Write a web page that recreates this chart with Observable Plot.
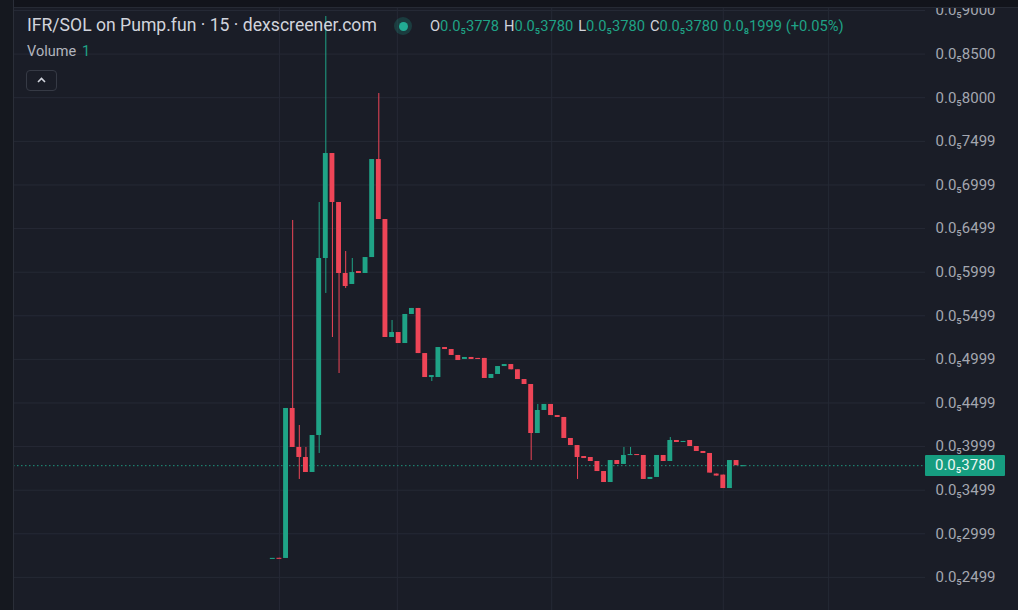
<!DOCTYPE html>
<html>
<head>
<meta charset="utf-8">
<script src="https://cdn.jsdelivr.net/npm/d3@7"></script>
<script src="https://cdn.jsdelivr.net/npm/@observablehq/plot@0.6"></script>
<style>
  html, body { margin: 0; padding: 0; background: #1a1d27; }
  #wrap { position: relative; width: 1018px; height: 610px; overflow: hidden; background: #1a1d27; font-family: Roboto, "Noto Sans", sans-serif; }
  #chart { position: absolute; left: 0; top: 0; }
  .ov { position: absolute; white-space: nowrap; }
  #topband { left: 0; top: 0; width: 1018px; height: 7px; background: #12141b; border-bottom: 1px solid #262a34; }
  #leftband { left: 0; top: 0; width: 13px; height: 610px; background: #15181f; border-right: 1px solid #2a2e38; }
  #title { left: 27px; top: 15px; font-size: 17.6px; color: #d1d4dc; }
  #dot { left: 394px; top: 17px; width: 18px; height: 18px; border-radius: 50%; background: rgba(34,171,148,0.22); }
  #dot::after { content: ""; position: absolute; left: 4.5px; top: 4.5px; width: 9px; height: 9px; border-radius: 50%; background: #22ab94; }
  #ohlc { left: 430px; top: 17px; font-size: 14.7px; color: #d1d4dc; }
  #ohlc .v { color: #1fa386; margin-right: 5px; }
  #vol { left: 27px; top: 43px; font-size: 14.5px; color: #b2b5be; }
  #vol .v { color: #1fa386; margin-left: 6px; }
  #caret { left: 26px; top: 70px; width: 31px; height: 21px; border: 1px solid #363a45; border-radius: 4px; box-sizing: border-box; }
  #pricebox { left: 925px; width: 80px; height: 21px; background: #169d80; color: #eaf6f2; font-size: 15px; text-align: center; line-height: 21px; border-radius: 1px; }
</style>
</head>
<body>
<div id="wrap"></div>
<script>
// ---- data ----
const symbolTitle = "IFR/SOL on Pump.fun · 15 · dexscreener.com";
const ohlcLabels = ["O", "H", "L", "C"];
const ohlcValues = ["0.0₅3778", "0.0₅3780", "0.0₅3780", "0.0₅3780"];
const changeText = "0.0₈1999 (+0.05%)";
const volumeValue = "1";

const opens = [.2716,.2718,.2716,.4436,.3989,.3874,.3702,.4126,.6156,.7360,.6798,.5984,.5858,.6007,.5984,.6167,.7291,.6603,.5250,.5307,
  .5181,.5514,.5583,.5066,.4791,.4791,.5135,.5112,.5044,.4998,.5021,.5010,.5010,.4780,.4826,.4917,.4940,.4880,.4768,.4711,
  .4149,.4413,.4482,.4355,.4333,.4092,.4011,.3885,.3874,.3828,.3713,.3587,.3839,.3794,.3897,.3908,.3897,.3622,.3645,.3897,
  .3828,.4069,.4046,.4069,.4000,.3943,.3920,.3684,.3672,.3518,.3839,.3778];
const closes = [.2717,.2716,.4436,.3989,.3874,.3702,.4126,.6156,.7360,.6798,.5984,.5835,.5995,.5984,.6167,.7291,.6603,.5250,.5307,.5181,
  .5514,.5583,.5066,.4791,.4814,.5135,.5112,.5044,.4986,.5021,.4998,.4998,.4780,.4826,.4917,.4940,.4880,.4768,.4711,.4149,
  .4413,.4482,.4355,.4333,.4092,.4011,.3874,.3862,.3828,.3713,.3587,.3839,.3794,.3897,.3908,.3897,.3622,.3645,.3897,.3828,
  .4069,.4046,.4058,.4000,.3943,.3920,.3695,.3661,.3518,.3839,.3780,.3780];
const highs = [.2717,.2718,.4436,.6592,.4241,.3989,.4126,.6798,.8931,.7360,.6798,.6236,.6156,.6007,.6167,.7291,.8048,.6603,.5445,.5307,
  .5514,.5583,.5583,.5066,.4814,.5135,.5135,.5112,.5044,.5021,.5021,.5010,.5010,.4826,.4917,.4940,.4940,.4880,.4768,.4711,
  .4482,.4482,.4482,.4355,.4333,.4092,.4011,.3885,.3874,.3828,.3713,.3839,.3839,.3989,.3989,.3908,.3897,.3645,.3897,.3897,
  .4103,.4069,.4058,.4069,.4000,.3943,.3920,.3684,.3672,.3839,.3839,.3780];
const lows = [.2716,.2716,.2716,.3989,.3622,.3702,.3702,.3920,.5755,.5250,.4837,.5812,.5858,.5984,.5984,.6167,.6603,.5250,.5250,.5181,
  .5181,.5514,.5066,.4791,.4745,.4791,.5112,.5044,.4986,.4998,.4998,.4998,.4780,.4780,.4826,.4917,.4880,.4768,.4711,.3839,
  .4149,.4413,.4355,.4333,.4092,.4011,.3622,.3862,.3828,.3713,.3587,.3587,.3794,.3794,.3897,.3897,.3622,.3622,.3645,.3828,
  .3828,.4046,.4046,.4000,.3943,.3920,.3695,.3661,.3518,.3518,.3780,.3778];

const yTickValues = [0.9000, 0.8500, 0.8000, 0.7499, 0.6999, 0.6499, 0.5999, 0.5499, 0.4999, 0.4499, 0.3999, 0.3499, 0.2999, 0.2499];
const timeGridIndex = [1.0, 18.8, 42.1, 68.0, 83.9];
const lastPrice = 0.3780;

// ---- styles ----
const UP = "#1fa386", DOWN = "#ee4557";
const GRID = "#252935";

const fmt = v => "0.0₅" + v.toFixed(4).slice(2);

const candles = opens.map((o, i) => {
  const c = closes[i];
  const top = Math.max(o, c);
  let bot = Math.min(o, c);
  if (top - bot < 0.0012) bot = top - 0.0012;
  return {i, open: o, close: c, high: highs[i], low: lows[i], top, bot, up: c >= o};
});

const plot = Plot.plot({
  width: 1018,
  height: 610,
  marginLeft: 13,
  marginRight: 93,
  marginTop: 0,
  marginBottom: 0,
  style: {background: "transparent", fontFamily: "Roboto, 'Noto Sans', sans-serif"},
  x: {domain: [-39.14, 98.52], axis: null},
  y: {domain: [0.21193, 0.91147], axis: null},
  marks: [
    Plot.gridY(yTickValues, {stroke: GRID, strokeOpacity: 1}),
    Plot.gridX(timeGridIndex, {stroke: GRID, strokeOpacity: 1}),
    Plot.ruleY([lastPrice], {stroke: "#1fa386", strokeDasharray: "1.5,2.5", strokeOpacity: 0.9}),
    Plot.ruleX(candles, {x: "i", y1: "low", y2: "high", stroke: d => d.up ? UP : DOWN, strokeWidth: 1}),
    Plot.rect(candles, {x1: d => d.i - 0.37, x2: d => d.i + 0.37, y1: "bot", y2: "top", fill: d => d.up ? UP : DOWN}),
    Plot.axisY(yTickValues, {anchor: "right", tickSize: 0, tickPadding: 10, tickFormat: fmt, fill: "#a4a7b0", fontSize: 15})
  ]
});
plot.id = "chart";

const wrap = document.getElementById("wrap");
wrap.appendChild(plot);

function ov(id, html) {
  const d = document.createElement("div");
  d.className = "ov"; d.id = id; d.innerHTML = html;
  wrap.appendChild(d);
  return d;
}
ov("topband", "");
ov("leftband", "");
ov("title", symbolTitle);
ov("dot", "");
ov("ohlc", ohlcLabels.map((l, k) => `${l}<span class="v">${ohlcValues[k]}</span>`).join("") + `<span class="v">${changeText}</span>`);
ov("vol", `Volume<span class="v">${volumeValue}</span>`);
ov("caret", `<svg width="29" height="19" style="position:absolute;left:0;top:0"><polyline points="11,11 14.5,7.5 18,11" fill="none" stroke="#d1d4dc" stroke-width="1.6"/></svg>`);
const pb = ov("pricebox", fmt(lastPrice));
pb.style.top = (plot.scale("y").apply(lastPrice) - 10.5) + "px";
</script>
</body>
</html>
